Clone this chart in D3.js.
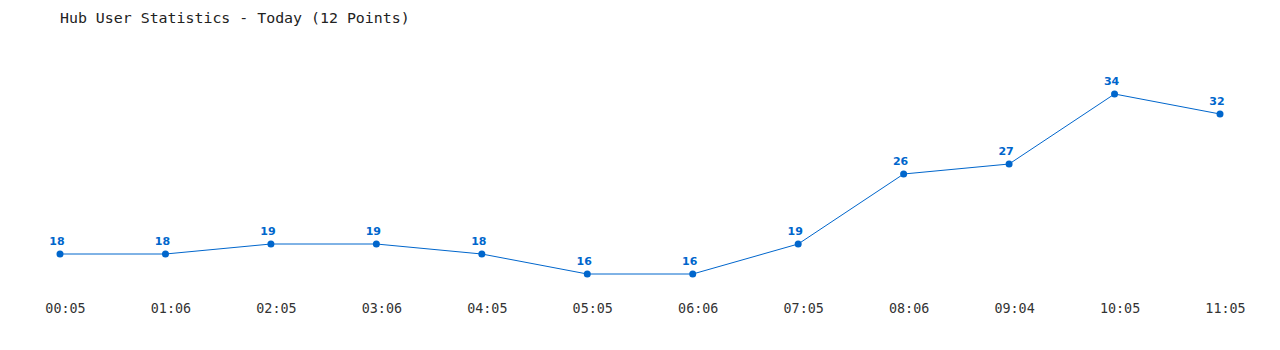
<!DOCTYPE html>
<html>
<head>
<meta charset="utf-8">
<script src="https://cdn.jsdelivr.net/npm/d3@7"></script>
<style>
  body { margin: 0; background: #fff; overflow: hidden; }
</style>
</head>
<body>
<script>
// data
const times = ["00:05", "01:06", "02:05", "03:06", "04:05", "05:05",
               "06:06", "07:05", "08:06", "09:04", "10:05", "11:05"];
const users = [18, 18, 19, 19, 18, 16, 16, 19, 26, 27, 34, 32];
const title = "Hub User Statistics - Today (12 Points)";

const width = 1280, height = 350;
const lineColor = "#0066cc";

const svg = d3.select("body").append("svg")
    .attr("width", width)
    .attr("height", height);

const x = d3.scalePoint()
    .domain(times)
    .range([60, 1220]);

// 10px per user
const y = d3.scaleLinear()
    .domain([16, 34])
    .range([274, 94]);

svg.append("text")
    .attr("x", 60)
    .attr("y", 23)
    .attr("fill", "#222")
    .style("font-family", "'DejaVu Sans Mono', monospace")
    .style("font-size", "14.9px")
    .text(title);

// x axis labels only, no line; labels sit a little right of the points
const xAxis = svg.append("g")
    .attr("transform", "translate(5,303)")
    .call(d3.axisBottom(x).tickSize(0).tickPadding(0));
xAxis.select(".domain").remove();
xAxis.selectAll("text")
    .attr("dy", "0.71em")
    .attr("fill", "#333")
    .style("font-family", "'DejaVu Sans Mono', monospace")
    .style("font-size", "13.4px");

const pts = times.map((t, i) => ({t: t, v: users[i]}));

svg.append("path")
    .datum(pts)
    .attr("fill", "none")
    .attr("stroke", lineColor)
    .attr("stroke-width", 1)
    .attr("d", d3.line().x(d => x(d.t)).y(d => y(d.v)));

svg.append("g")
    .selectAll("circle")
    .data(pts)
    .join("circle")
    .attr("cx", d => x(d.t))
    .attr("cy", d => y(d.v))
    .attr("r", 3.5)
    .attr("fill", lineColor);

svg.append("g")
    .selectAll("text")
    .data(pts)
    .join("text")
    .attr("x", d => x(d.t) - 3)
    .attr("y", d => y(d.v) - 9)
    .attr("text-anchor", "middle")
    .attr("fill", lineColor)
    .style("font-family", "'DejaVu Sans', sans-serif")
    .style("font-weight", "bold")
    .style("font-size", "11px")
    .text(d => d.v);
</script>
</body>
</html>
